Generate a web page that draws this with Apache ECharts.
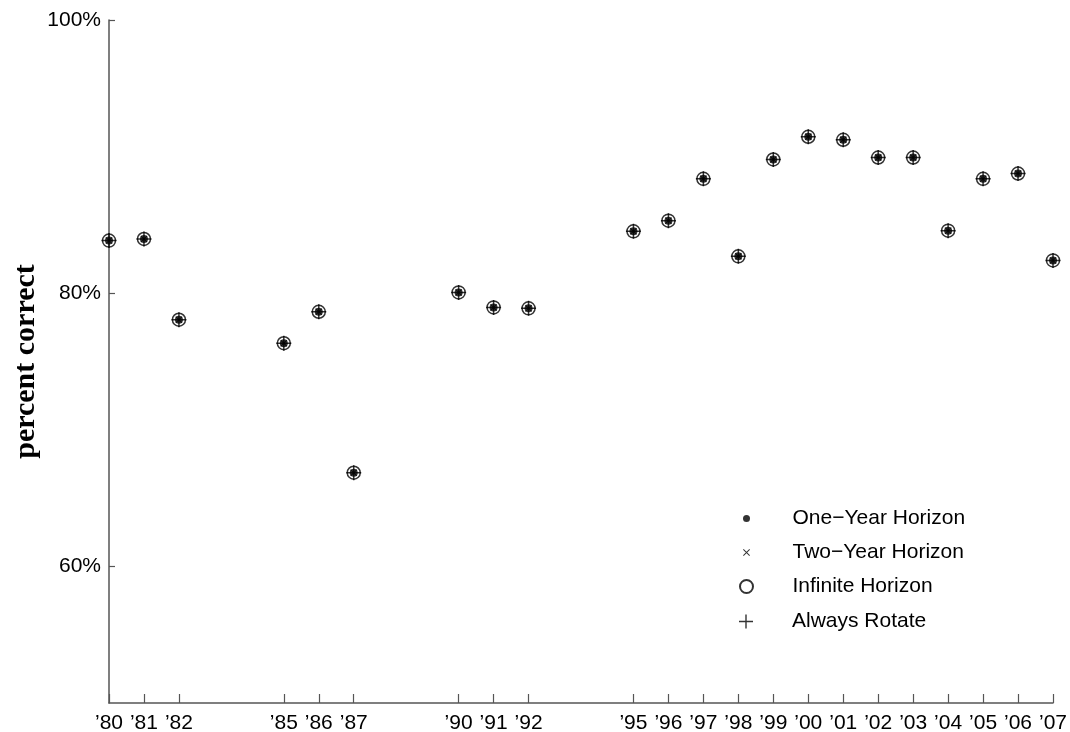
<!DOCTYPE html>
<html>
<head>
<meta charset="utf-8">
<script src="https://cdn.jsdelivr.net/npm/echarts@6/dist/echarts.min.js"></script>
<style>
html,body{margin:0;padding:0;background:#fff;}
#chart{width:1070px;height:732px;}
</style>
</head>
<body>
<div id="chart"></div>
<script>
// ---- data ----
var years = [1980, 1981, 1982, 1985, 1986, 1987, 1990, 1991, 1992, 1995, 1996, 1997, 1998, 1999, 2000, 2001, 2002, 2003, 2004, 2005, 2006, 2007];
var oneYear      = [83.85, 83.97, 78.06, 76.34, 78.64, 66.86, 80.06, 78.96, 78.89, 84.53, 85.31, 88.37, 82.70, 89.79, 91.45, 91.23, 89.93, 89.93, 84.58, 88.37, 88.76, 82.40];
var twoYear      = [83.85, 83.97, 78.06, 76.34, 78.64, 66.86, 80.06, 78.96, 78.89, 84.53, 85.31, 88.37, 82.70, 89.79, 91.45, 91.23, 89.93, 89.93, 84.58, 88.37, 88.76, 82.40];
var infinite     = [83.85, 83.97, 78.06, 76.34, 78.64, 66.86, 80.06, 78.96, 78.89, 84.53, 85.31, 88.37, 82.70, 89.79, 91.45, 91.23, 89.93, 89.93, 84.58, 88.37, 88.76, 82.40];
var alwaysRotate = [83.85, 83.97, 78.06, 76.34, 78.64, 66.86, 80.06, 78.96, 78.89, 84.53, 85.31, 88.37, 82.70, 89.79, 91.45, 91.23, 89.93, 89.93, 84.58, 88.37, 88.76, 82.40];
var yTicks = [60, 80, 100];
var seriesNames = ['One\u2212Year Horizon', 'Two\u2212Year Horizon', 'Infinite Horizon', 'Always Rotate'];

function pairs(arr) { return years.map(function (y, i) { return [y, arr[i]]; }); }

var PLUS = 'path://M0,6.3 L14,6.3 L14,7.7 L0,7.7 Z M6.3,0 L7.7,0 L7.7,14 L6.3,14 Z';
var CROSS = 'path://M0,1 L1,0 L10,9 L9,10 Z M9,0 L10,1 L1,10 L0,9 Z';

var chart = echarts.init(document.getElementById('chart'), null, {renderer: 'canvas'});
var FONT = 'Liberation Sans';
var axisColor = '#555';

function legendFor(name, icon, h, left, top) {
  return {
    show: true, selectedMode: false, orient: 'vertical',
    left: left, top: top, padding: 5,
    itemWidth: 82, itemHeight: h,
    data: [{name: name, icon: icon}],
    textStyle: {fontFamily: FONT, fontSize: 21, color: '#000'}
  };
}

var option = {
  animation: false,
  backgroundColor: '#fff',
  grid: {left: 109, right: 17, top: 20, bottom: 29, containLabel: false, outerBoundsMode: 'none'},
  legend: [
    legendFor(seriesNames[0], 'circle', 7, 738, 503),
    legendFor(seriesNames[1], CROSS, 7, 738, 537),
    legendFor(seriesNames[2], 'circle', 13, 734, 571),
    legendFor(seriesNames[3], PLUS, 14, 734, 606)
  ],
  xAxis: {
    type: 'value', min: 1980, max: 2007, interval: 1,
    splitLine: {show: false},
    axisLine: {show: true, onZero: false, lineStyle: {color: axisColor, width: 1.5}},
    axisTick: {show: true, inside: true, length: 9, customValues: years, lineStyle: {color: axisColor, width: 1.2}},
    axisLabel: {
      customValues: years, margin: 10,
      fontFamily: FONT, fontSize: 21, color: '#000',
      formatter: function (v) { return '\u2019' + String(v).slice(2); }
    }
  },
  yAxis: {
    type: 'value', min: 50, max: 100, interval: 10,
    name: 'percent correct', nameLocation: 'middle', nameGap: 68, nameRotate: 90,
    nameMoveOverlap: false,
    nameTextStyle: {fontFamily: 'Liberation Serif', fontWeight: 'bold', fontSize: 30, color: '#000'},
    splitLine: {show: false},
    axisLine: {show: true, onZero: false, lineStyle: {color: axisColor, width: 1.5}},
    axisTick: {show: true, inside: true, length: 6, customValues: yTicks, lineStyle: {color: axisColor, width: 1.2}},
    axisLabel: {
      customValues: yTicks, margin: 8,
      fontFamily: FONT, fontSize: 21, color: '#000',
      formatter: function (v) { return v + '%'; }
    }
  },
  series: [
    {
      name: seriesNames[2], type: 'scatter', clip: false, data: pairs(infinite),
      symbol: 'circle', symbolSize: 13,
      itemStyle: {color: 'rgba(255,255,255,0)', borderColor: '#000', borderWidth: 1.5}
    },
    {
      name: seriesNames[3], type: 'scatter', clip: false, data: pairs(alwaysRotate),
      symbol: PLUS, symbolSize: 15,
      itemStyle: {color: '#000'}
    },
    {
      name: seriesNames[1], type: 'scatter', clip: false, data: pairs(twoYear),
      symbol: CROSS, symbolSize: 7,
      itemStyle: {color: '#000'}
    },
    {
      name: seriesNames[0], type: 'scatter', clip: false, data: pairs(oneYear),
      symbol: 'circle', symbolSize: 8,
      itemStyle: {color: '#000'}
    }
  ]
};
chart.setOption(option);
</script>
</body>
</html>
